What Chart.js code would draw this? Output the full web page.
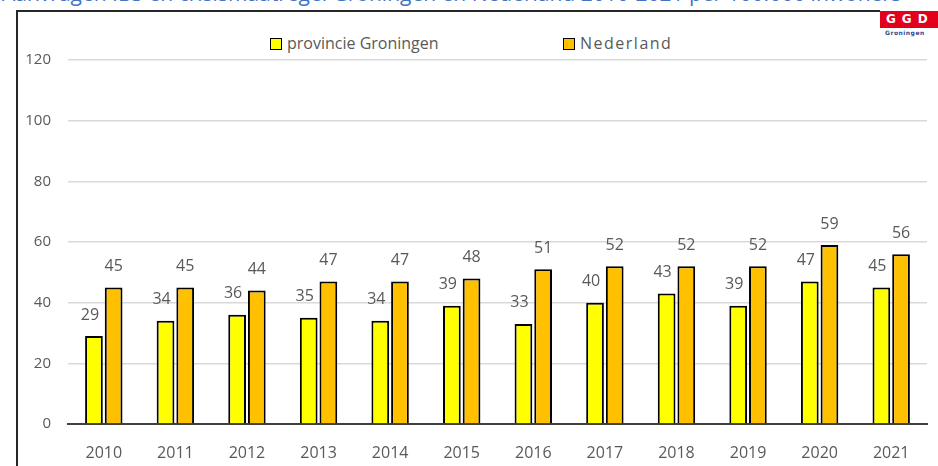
<!DOCTYPE html>
<html>
<head>
<meta charset="utf-8">
<script src="https://cdn.jsdelivr.net/npm/chart.js@4"></script>
<style>
  html, body { margin: 0; padding: 0; background: #fff; }
  #wrap { position: relative; width: 938px; height: 466px; overflow: hidden; background: #fff; }
  #c { position: absolute; left: 0; top: 0; }
  .title { position: absolute; left: 2px; top: -18px; font-family: "Open Sans", sans-serif; font-size: 21px; color: #4472C4; white-space: nowrap; line-height: 22px; }
  .frameTop { position: absolute; left: 16px; top: 10px; width: 864px; height: 2px; background: #262626; }
  .frameLeft { position: absolute; left: 16px; top: 10px; width: 2px; height: 470px; background: #262626; }
  .logo { position: absolute; left: 880px; top: 11px; width: 60px; height: 17px; background: #E3001B; color: #fff; font-family: "DejaVu Sans", sans-serif; font-weight: bold; font-size: 12px; line-height: 17px; letter-spacing: 6px; padding-left: 6px; box-sizing: border-box; }
  .logoSub { position: absolute; left: 885px; top: 29px; font-family: "DejaVu Sans", sans-serif; font-weight: bold; font-size: 6px; color: #2E4A8A; letter-spacing: 0.5px; }
  .leg { position: absolute; top: 33px; font-family: "Open Sans", sans-serif; font-size: 16px; color: #595959; white-space: nowrap; line-height: 20px; }
  .leg span.box { display: inline-block; width: 10px; height: 10px; border: 1.5px solid #000; vertical-align: -1px; margin-right: 5px; }
</style>
</head>
<body>
<div id="wrap">
  <div class="title">Aanvragen IBS en crisismaatregel Groningen en Nederland 2010-2021 per 100.000 inwoners</div>
  <div class="frameTop"></div>
  <div class="frameLeft"></div>
  <div class="logo">GGD</div>
  <div class="logoSub">Groningen</div>
  <div id="leg1" class="leg" style="left:270px"></div>
  <div id="leg2" class="leg" style="left:563px; letter-spacing:1.5px"></div>
  <canvas id="c" width="938" height="466"></canvas>
</div>
<script>
const years = ["2010","2011","2012","2013","2014","2015","2016","2017","2018","2019","2020","2021"];
const seriesNames = ["provincie Groningen", "Nederland"];
const groningen = [29, 34, 36, 35, 34, 39, 33, 40, 43, 39, 47, 45];
const nederland = [45, 45, 44, 47, 47, 48, 51, 52, 52, 52, 59, 56];
const yTicks = [0, 20, 40, 60, 80, 100, 120];

const colors = ["#FFFF00", "#FFC000"];
const FONT = "'Open Sans', sans-serif";
const GREY = "#595959";

[["leg1", 0], ["leg2", 1]].forEach(([id, i]) => {
  const el = document.getElementById(id);
  el.innerHTML = '<span class="box" style="background:' + colors[i] + '"></span>' + seriesNames[i];
});

const labelPlugin = {
  id: 'valueLabels',
  afterDatasetsDraw(chart) {
    const ctx = chart.ctx;
    ctx.save();
    ctx.font = "16px " + FONT;
    ctx.fillStyle = GREY;
    ctx.textAlign = "center";
    ctx.textBaseline = "middle";
    chart.data.datasets.forEach((ds, di) => {
      const meta = chart.getDatasetMeta(di);
      meta.data.forEach((bar, i) => {
        const dx = di === 0 ? -4 : 0;
        ctx.fillText(String(ds.data[i]), bar.x + dx, bar.y - 21);
      });
    });
    ctx.restore();
  }
};

new Chart(document.getElementById("c"), {
  type: "bar",
  data: {
    labels: years,
    datasets: [
      { label: seriesNames[0], data: groningen, backgroundColor: colors[0], borderColor: "#000", borderWidth: 2, borderSkipped: "bottom" },
      { label: seriesNames[1], data: nederland, backgroundColor: colors[1], borderColor: "#000", borderWidth: 2, borderSkipped: "bottom" }
    ]
  },
  options: {
    responsive: false,
    animation: false,
    devicePixelRatio: 1,
    layout: { padding: { left: 0, top: 60, right: 11, bottom: 0 } },
    datasets: { bar: { categoryPercentage: 0.55, barPercentage: 0.9 } },
    plugins: { legend: { display: false }, tooltip: { enabled: false }, title: { display: false } },
    scales: {
      x: {
        grid: { display: false, drawTicks: false },
        border: { display: true, color: "#404040", width: 2 },
        ticks: { font: { family: FONT, size: 16 }, color: GREY, padding: 20 },
        afterFit(s) { s.height = 42; }
      },
      y: {
        min: 0, max: 120,
        afterBuildTicks(s) { s.ticks = yTicks.map(v => ({ value: v })); },
        grid: { color: "#d9d9d9", lineWidth: 1.5, drawTicks: false },
        border: { display: false },
        ticks: { font: { family: FONT, size: 15 }, color: GREY, padding: 17 },
        afterFit(s) { s.width = 68; }
      }
    }
  },
  plugins: [labelPlugin]
});
</script>
</body>
</html>
